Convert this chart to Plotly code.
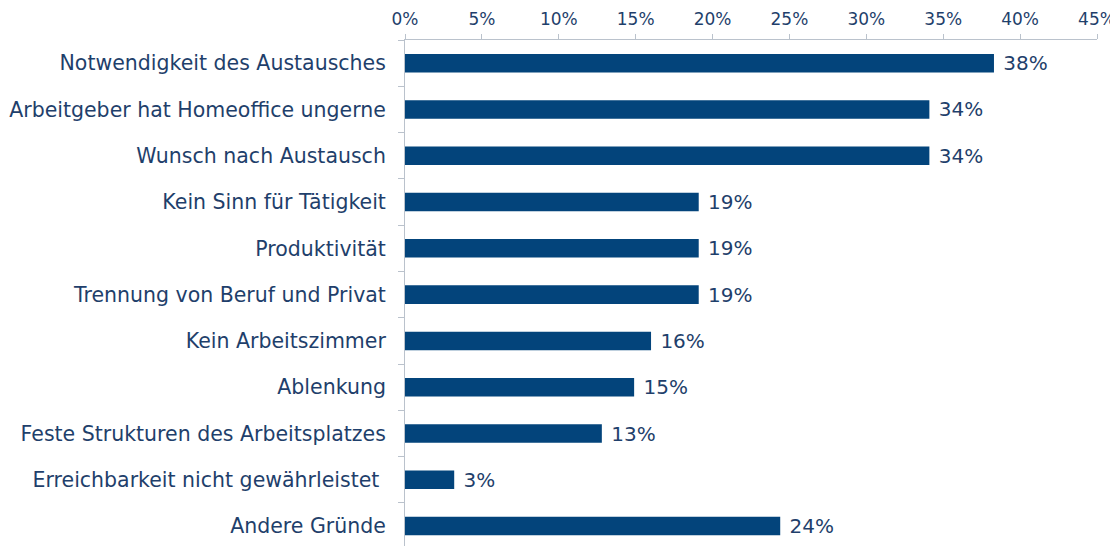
import plotly.graph_objects as go

categories = [
    "Notwendigkeit des Austausches",
    "Arbeitgeber hat Homeoffice ungerne",
    "Wunsch nach Austausch",
    "Kein Sinn für Tätigkeit",
    "Produktivität",
    "Trennung von Beruf und Privat",
    "Kein Arbeitszimmer",
    "Ablenkung",
    "Feste Strukturen des Arbeitsplatzes",
    "Erreichbarkeit nicht gewährleistet ",
    "Andere Gründe",
]
values = [38.3, 34.1, 34.1, 19.1, 19.1, 19.1, 16.0, 14.9, 12.8, 3.2, 24.4]
value_labels = ["38%", "34%", "34%", "19%", "19%", "19%", "16%", "15%", "13%", "3%", "24%"]
x_ticks = [0, 5, 10, 15, 20, 25, 30, 35, 40, 45]
x_tick_labels = [f"{t}%" for t in x_ticks]

BAR = "#03447B"
TXT = "#1F3F6B"
AX = "#BAC2CC"

fig = go.Figure(
    go.Bar(
        x=values,
        y=categories,
        orientation="h",
        marker=dict(color=BAR, line=dict(width=0)),
        width=0.4,
        text=["\u00a0" + s for s in value_labels],
        textposition="outside",
        constraintext="none",
        textfont=dict(family="DejaVu Sans", size=20, color=TXT),
        cliponaxis=False,
        hoverinfo="skip",
    )
)

# page body has an 8px margin, so the figure is sized/offset to compensate
fig.update_layout(
    width=1110,
    height=538,
    margin=dict(l=397, r=21, t=32, b=0),
    plot_bgcolor="white",
    paper_bgcolor="white",
    showlegend=False,
    font=dict(family="DejaVu Sans", color=TXT),
    xaxis=dict(
        side="top",
        range=[0, 45],
        tickvals=x_ticks,
        ticktext=x_tick_labels,
        showgrid=False,
        zeroline=False,
        showline=True,
        linecolor=AX,
        linewidth=1,
        ticks="outside",
        ticklen=5,
        tickcolor=AX,
        tickfont=dict(family="DejaVu Sans", size=17, color=TXT),
        ticklabelstandoff=2,
        automargin=False,
    ),
    yaxis=dict(
        categoryorder="array",
        categoryarray=categories,
        range=[10.43, -0.5],
        showgrid=False,
        zeroline=False,
        showline=True,
        linecolor=AX,
        linewidth=1,
        ticks="outside",
        tickson="boundaries",
        ticklen=6,
        tickcolor=AX,
        tickfont=dict(family="DejaVu Sans", size=20.5, color=TXT),
        ticklabelstandoff=14,
        automargin=False,
    ),
)

fig.write_html("out.html")
